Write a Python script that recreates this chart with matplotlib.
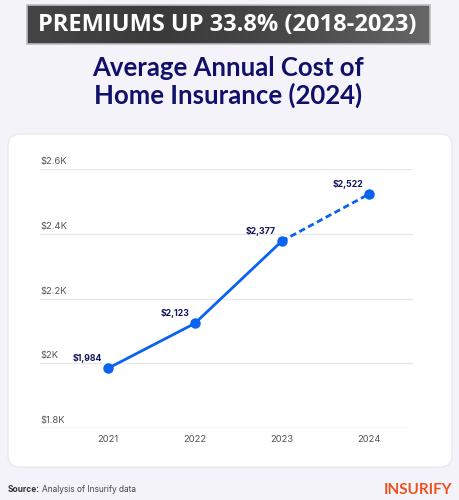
import matplotlib
matplotlib.use("Agg")
import matplotlib.pyplot as plt
from matplotlib.patches import FancyBboxPatch, Rectangle
import numpy as np

years = [2021, 2022, 2023, 2024]
costs = [1984, 2123, 2377, 2522]
cost_labels = ["$1,984", "$2,123", "$2,377", "$2,522"]
y_ticks = [1800, 2000, 2200, 2400, 2600]
y_tick_labels = ["$1.8K", "$2K", "$2.2K", "$2.4K", "$2.6K"]
banner_text = "PREMIUMS UP 33.8% (2018-2023)"
title_text = "Average Annual Cost of\nHome Insurance (2024)"

W, H = 460, 500
fig = plt.figure(figsize=(W / 100, H / 100), dpi=100)
fig.patch.set_facecolor("#f3f3f9")

def fx(px):
    return px / W

def fy(py):
    return 1 - py / H

# card (background axes)
cax = fig.add_axes([0, 0, 1, 1], zorder=-5)
cax.set_axis_off()
cax.set_xlim(0, W)
cax.set_ylim(H, 0)
cax.add_patch(FancyBboxPatch((8, 134), 452 - 8, 467 - 134,
                             boxstyle="round,pad=0,rounding_size=12",
                             facecolor="white", edgecolor="#e6e6ee", lw=0.8))

# banner
bg = fig.add_axes([fx(27), fy(44), fx(430 - 27), (44 - 5) / H])
bg.set_axis_off()
grad = np.linspace(0, 1, 256).reshape(1, -1)
bg.imshow(grad, aspect="auto", cmap=matplotlib.colors.LinearSegmentedColormap.from_list(
    "g", ["#454545", "#3a3a3a", "#4a4a4a", "#666666"]), extent=[0, 1, 0, 1])
bg.set_xlim(0, 1)
bg.set_ylim(0, 1)
bg.add_patch(Rectangle((0, 0), 1, 1, fill=False, edgecolor="#bdbdbd", lw=1.2,
                       transform=bg.transAxes, clip_on=False))
fig.text(fx(227), fy(25), banner_text, ha="center", va="center", color="white",
         fontsize=17, fontweight="bold", family="Open Sans")

# title
fig.text(fx(228), fy(82), title_text, ha="center", va="center", color="#10106b",
         fontsize=18.5, fontweight="bold", family="Lato", linespacing=1.15)

ax = fig.add_axes([fx(40), fy(428), fx(413 - 40), (428 - 169) / H])
ax.set_facecolor("none")
ax.set_xlim(2020.22, 2024.51)
ax.set_ylim(1800, 2600)
for s in ax.spines.values():
    s.set_visible(False)
ax.set_yticks(y_ticks)
ax.set_yticklabels([])
ax.tick_params(length=0)
ax.grid(axis="y", color="#e8e8ec", lw=1)
ax.set_axisbelow(True)
for v, lab in zip(y_ticks, y_tick_labels):
    ax.annotate(lab, (0, v), xycoords=("axes fraction", "data"), xytext=(0, 2),
                textcoords="offset points", ha="left", va="bottom",
                fontsize=6.8, color="#555555", family="Inter")
ax.set_xticks(years)
ax.set_xticklabels([str(y) for y in years], fontsize=6.8, color="#555555", family="Inter")
ax.tick_params(axis="x", pad=5)

blue = "#0a62f0"
ax.plot(years[:3], costs[:3], color=blue, lw=2, solid_capstyle="round", zorder=3)
ax.plot(years[2:], costs[2:], color=blue, lw=2, ls=(0, (2.3, 1.3)), zorder=3)
ax.plot(years, costs, "o", color=blue, ms=6.5, zorder=4)
for x, y, lab in zip(years, costs, cost_labels):
    ax.annotate(lab, (x, y), xytext=(-4, 4), textcoords="offset points",
                ha="right", va="bottom", fontsize=6.3, fontweight="bold",
                color="#14145e", family="Inter")

# footer
src = fig.text(fx(8), fy(490), "Source:", ha="left", va="center", fontsize=6,
               fontweight="bold", color="#333333", family="Inter")
fig.canvas.draw()
ext = src.get_window_extent()
fig.text((ext.x1 + 2) / W, fy(490), "Analysis of Insurify data", ha="left", va="center",
         fontsize=6, color="#444444", family="Inter")
fig.text(fx(452), fy(490), "INSURIFY", ha="right", va="center", fontsize=11,
         fontweight="bold", color="#f0501e", family="Lato")

fig.savefig("out.png", dpi=100, facecolor=fig.get_facecolor())
